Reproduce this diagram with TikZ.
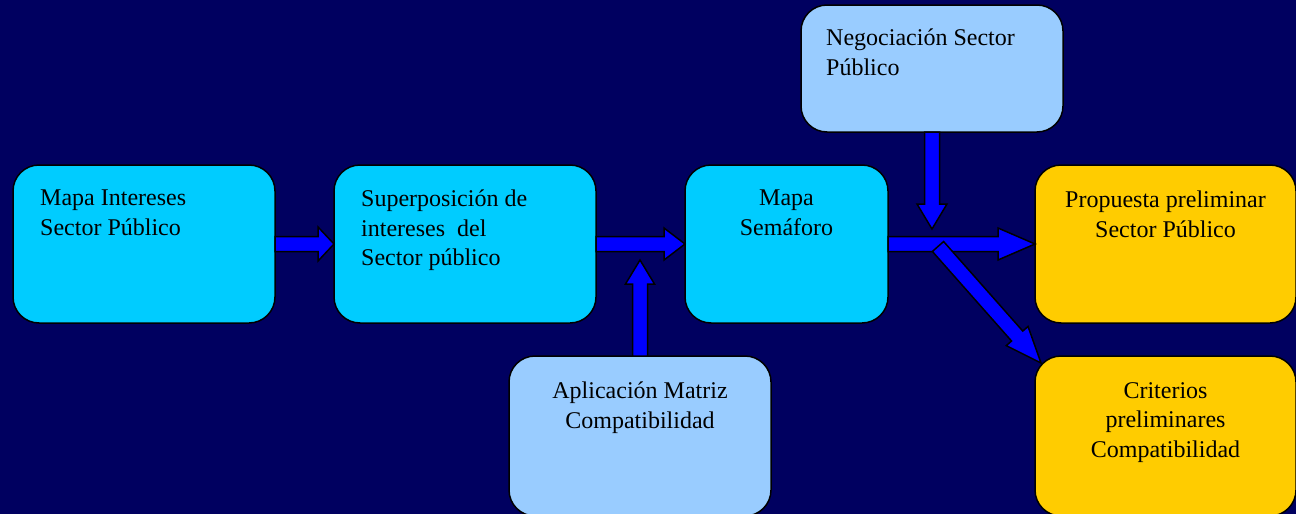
\documentclass[tikz,border=0pt]{standalone}
\usepackage{fontspec}
\setmainfont{Liberation Serif}
\usetikzlibrary{positioning,calc}
\definecolor{bgblue}{HTML}{000060}
\definecolor{skybox}{HTML}{00CCFF}
\definecolor{paleblue}{HTML}{99CCFF}
\definecolor{goldbox}{HTML}{FFCC00}
\definecolor{arrowblue}{HTML}{0000FF}
\newcommand{\barrow}[4]{%
  \coordinate (hb) at ($(#2)!#3!(#1)$);
  \filldraw[block arrow] ($(#1)!7.5pt!90:(#2)$) -- ($(hb)!7.5pt!90:(#2)$) -- ($(hb)!#4!90:(#2)$) -- (#2)
    -- ($(hb)!#4!-90:(#2)$) -- ($(hb)!7.5pt!-90:(#2)$) -- ($(#1)!7.5pt!-90:(#2)$) -- cycle;
}
\begin{document}
\begin{tikzpicture}[x=1pt,y=-1pt,
  main box/.style={draw=black,line width=1.5pt,rounded corners=26pt,minimum width=262pt,minimum height=158pt,inner sep=0pt,outer sep=0pt},
  box text/.style={font=\fontsize{24}{29.5}\selectfont,inner sep=0pt,text=black},
  block arrow/.style={fill=arrowblue,draw=black,line width=1.5pt,line join=miter}]
                \fill[bgblue] (0,0) rectangle (1296,514);
                \useasboundingbox (0,0) rectangle (1296,514);

                \node[main box,fill=skybox,anchor=north west] (b1) at (13,165) {};
                \node[main box,fill=skybox] (b2) [right=59pt of b1] {};
                \node[main box,fill=skybox,minimum width=203pt] (b3) [right=89pt of b2] {};
                \node[main box,fill=goldbox,minimum width=261pt] (b5) [right=147pt of b3] {};
                \node[main box,fill=paleblue,minimum height=127pt,anchor=north west] (b4) at (801,5) {};
                \node[main box,fill=paleblue,minimum height=160pt,anchor=north west] (b6) at (509,356) {};
                \node[main box,fill=goldbox,minimum width=261pt,minimum height=160pt,anchor=north west] (b7) at (1035,356) {};

                \node[box text,align=left] (t1) [below right=25pt and 27pt of b1.north west] {Mapa Intereses\\Sector Público};
                \node[box text,align=left] (t2) [below right=25pt and 27pt of b2.north west] {Superposición de\\intereses\ \ del\\Sector público};
                \node[box text,align=center] (t3) [below=25pt of b3.north] {Mapa\\Semáforo};
                \node[box text,align=left] (t4) [below right=24pt and 25pt of b4.north west] {Negociación Sector\\Público};
                \node[box text,align=center] (t5) [below=26pt of b5.north] {Propuesta preliminar\\Sector Público};
                \node[box text,align=center] (t6) [below=26pt of b6.north] {Aplicación Matriz\\Compatibilidad};
                \node[box text,align=center] (t7) [below=26pt of b7.north] {Criterios\\preliminares\\Compatibilidad};

                \coordinate (m1) at ($(b6.north)+(0,-96)$);
                \coordinate (n1) at ($(b4.south)+(0,97)$);
                \coordinate (d1) at ($(b3.east)!0.34!(b5.west)+(0,2.5)$);
                \coordinate (d2) at (1041,363);

                \barrow{b1.east}{b2.west}{16pt}{17pt}
                \barrow{b2.east}{b3.west}{21pt}{16pt}
                \barrow{b6.north}{m1}{24pt}{14.5pt}
                \barrow{b3.east}{b5.west}{37pt}{16pt}
                \barrow{b4.south}{n1}{25pt}{15pt}
                \barrow{d1}{d2}{36pt}{14.5pt}

            \end{tikzpicture}
\end{document}
